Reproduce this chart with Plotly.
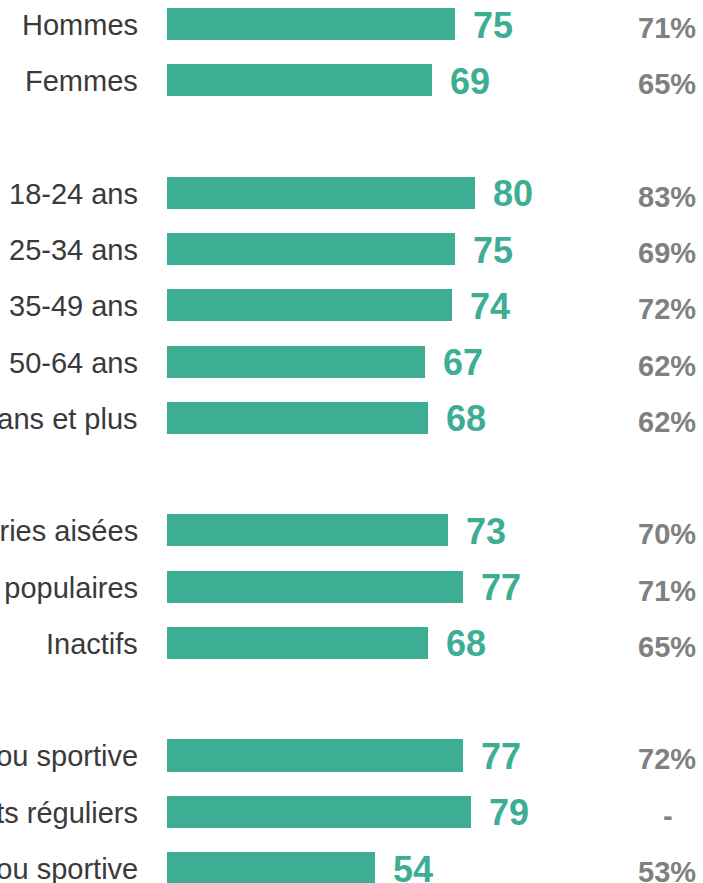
import plotly.graph_objects as go

categories = ["Hommes", "Femmes", "",
              "18-24 ans", "25-34 ans", "35-49 ans", "50-64 ans", "65 ans et plus", "",
              "Catégories aisées", "Catégories populaires", "Inactifs", "",
              "Pratique physique ou sportive", "Pratiquants réguliers",
              "Pas de pratique physique ou sportive"]
values = [75, 69, None, 80, 75, 74, 67, 68, None, 73, 77, 68, None, 77, 79, 54]
previous = ["71%", "65%", "", "83%", "69%", "72%", "62%", "62%", "",
            "70%", "71%", "65%", "", "72%", "-", "53%"]

GREEN = "#3DAE94"
LABEL = "#3A3A3A"
GREY = "#808080"
FONT = "Liberation Sans, Arial, sans-serif"

rows = list(range(len(categories)))
bx = [v for v in values if v is not None]
by = [r for r, v in zip(rows, values) if v is not None]

fig = go.Figure()
fig.add_trace(go.Bar(x=bx, y=by, orientation="h", marker=dict(color=GREEN, line=dict(width=0)),
                     width=0.57, hoverinfo="skip"))

ann = []
for r, cat, v, p in zip(rows, categories, values, previous):
    if v is None:
        continue
    ann.append(dict(x=0, y=r, xref="x", yref="y", text=cat, showarrow=False,
                    xanchor="right", yanchor="middle", xshift=-27, yshift=-1,
                    font=dict(family=FONT, size=29, color=LABEL)))
    ann.append(dict(x=v, y=r, xref="x", yref="y", text="<b>%d</b>" % v, showarrow=False,
                    xanchor="left", yanchor="middle", xshift=16, yshift=-1,
                    font=dict(family=FONT, size=36, color=GREEN)))
    if p == "-":
        ann.append(dict(x=1, y=r, xref="paper", yref="y", text="<b>%s</b>" % p, showarrow=False,
                        xanchor="center", yanchor="middle", xshift=-35, yshift=-4,
                        font=dict(family=FONT, size=29, color=GREY)))
    else:
        ann.append(dict(x=1, y=r, xref="paper", yref="y", text="<b>%s</b>" % p, showarrow=False,
                        xanchor="right", yanchor="middle", xshift=-5, yshift=-4,
                        font=dict(family=FONT, size=29, color=GREY)))

pitch = (868 - 24) / 15.0
fig.update_layout(
    width=703, height=883,
    margin=dict(l=167, r=0, t=0, b=0),
    paper_bgcolor="white", plot_bgcolor="white",
    showlegend=False,
    xaxis=dict(range=[0, 536 / 3.845], visible=False, fixedrange=True),
    yaxis=dict(range=[15 + 15 / pitch, -24 / pitch], visible=False, fixedrange=True),
    annotations=ann,
    bargap=0,
)
fig.write_html("out.html")
